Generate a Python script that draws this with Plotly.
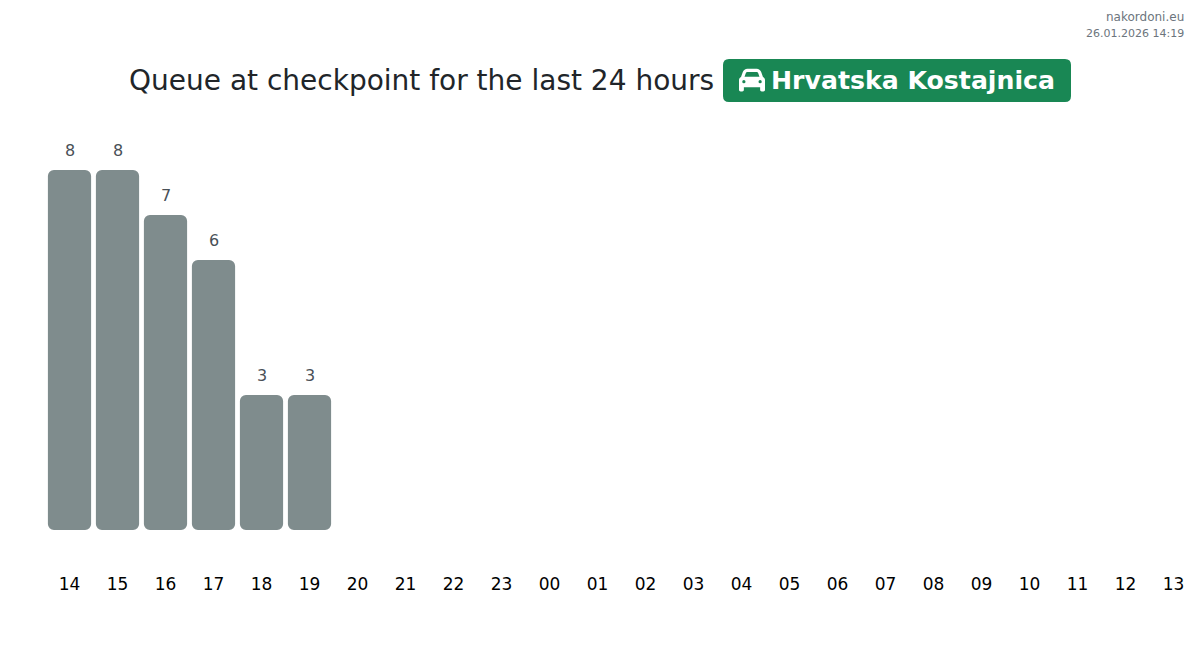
import base64
import plotly.graph_objects as go

hours = ["14","15","16","17","18","19","20","21","22","23","00","01","02","03","04","05","06","07","08","09","10","11","12","13"]
queue = [8, 8, 7, 6, 3, 3]
title_text = "Queue at checkpoint for the last 24 hours"
badge_text = "Hrvatska Kostajnica"
site_text = "nakordoni.eu"
stamp_text = "26.01.2026 14:19"

W, H = 1200, 651
ML, MR, MT, MB = 45, 3, 130, 121
PW, PH = W - ML - MR, H - MT - MB
FONT = "DejaVu Sans"
BAR = "#7f8c8d"
GREEN = "#198754"


def px(x):
    return (x - ML) / PW


def py(y):
    return 1 - (y - MT) / PH


bar_x = hours[:len(queue)]
fig = go.Figure()
fig.add_bar(x=bar_x, y=queue, base=[0] * len(queue), width=0.9,
            marker=dict(color=BAR, cornerradius=6, line_width=0), hoverinfo="skip")

annotations = [
    dict(x=i, y=v, xref="x", yref="y", text=str(v), showarrow=False, yshift=20,
         font=dict(family=FONT, size=16, color="#495057"))
    for i, v in enumerate(queue)
]


def label(x, y, text, size, color, anchor, bold=False):
    return dict(x=px(x), y=py(y), xref="paper", yref="paper", text=f"<b>{text}</b>" if bold else text,
                showarrow=False, xanchor=anchor, yanchor="middle",
                font=dict(family=FONT, size=size, color=color), borderpad=0, borderwidth=0)


annotations += [
    label(129, 80, title_text, 28, "#212529", "left"),
    label(770.5, 80, badge_text, 25.2, "#ffffff", "left", True),
    label(1184, 17, site_text, 12, "#6c757d", "right"),
    label(1184, 33, stamp_text, 11, "#6c757d", "right"),
]

bx0, bx1, by0, by1, r = 723, 1071, 59, 102, 6
bp = lambda a, b: f"{px(a):.6f},{py(b):.6f}"
badge_path = (
    f"M{bp(bx0 + r, by0)} L{bp(bx1 - r, by0)} Q{bp(bx1, by0)} {bp(bx1, by0 + r)} "
    f"L{bp(bx1, by1 - r)} Q{bp(bx1, by1)} {bp(bx1 - r, by1)} L{bp(bx0 + r, by1)} "
    f"Q{bp(bx0, by1)} {bp(bx0, by1 - r)} L{bp(bx0, by0 + r)} Q{bp(bx0, by0)} {bp(bx0 + r, by0)} Z"
)

car = ("M135.2 117.4L109.1 192H402.9l-26.1-74.6C372.3 104.6 360.2 96 346.6 96H165.4c-13.6 0-25.7 8.6-30.2 21.4z"
       "M39.6 196.8L74.8 96.3C88.3 57.8 124.6 32 165.4 32H346.6c40.8 0 77.1 25.8 90.6 64.3l35.2 100.5c23.2 9.6 39.6 32.5 39.6 59.2V400v48"
       "c0 17.7-14.3 32-32 32H448c-17.7 0-32-14.3-32-32V400H96v48c0 17.7-14.3 32-32 32H32c-17.7 0-32-14.3-32-32V400 256"
       "c0-26.7 16.4-49.6 39.6-59.2zM128 288a32 32 0 1 0 -64 0 32 32 0 1 0 64 0zm288 32a32 32 0 1 0 0-64 32 32 0 1 0 0 64z")
svg = f'<svg xmlns="http://www.w3.org/2000/svg" viewBox="0 0 512 512" width="512" height="512"><path fill="#ffffff" d="{car}"/></svg>'
car_uri = "data:image/svg+xml;base64," + base64.b64encode(svg.encode()).decode()

fig.update_layout(
    width=W, height=H, margin=dict(l=ML, r=MR, t=MT, b=MB, pad=0, autoexpand=False),
    paper_bgcolor="white", plot_bgcolor="white", showlegend=False, barmode="overlay",
    font=dict(family=FONT),
    xaxis=dict(type="category", categoryorder="array", categoryarray=hours, range=[-0.5104, 23.4896],
               showgrid=False, zeroline=False, showline=False, ticks="", ticklabelstandoff=42,
               tickfont=dict(family=FONT, size=17, color="#000000"), tickangle=0, automargin=False,
               tickmode="array", tickvals=hours, ticktext=hours, fixedrange=True),
    yaxis=dict(range=[0, PH / 45], visible=False, fixedrange=True),
    annotations=annotations,
    shapes=[dict(type="path", xref="paper", yref="paper", path=badge_path, fillcolor=GREEN, line_width=0, layer="below")],
    images=[dict(source=car_uri, xref="paper", yref="paper", x=px(739), y=py(67), sizex=26 / PW, sizey=26 / PH,
                 xanchor="left", yanchor="top", sizing="contain", layer="above")],
)
fig.write_html("out.html", config=dict(displayModeBar=False), post_script="document.body.style.margin='0';")
